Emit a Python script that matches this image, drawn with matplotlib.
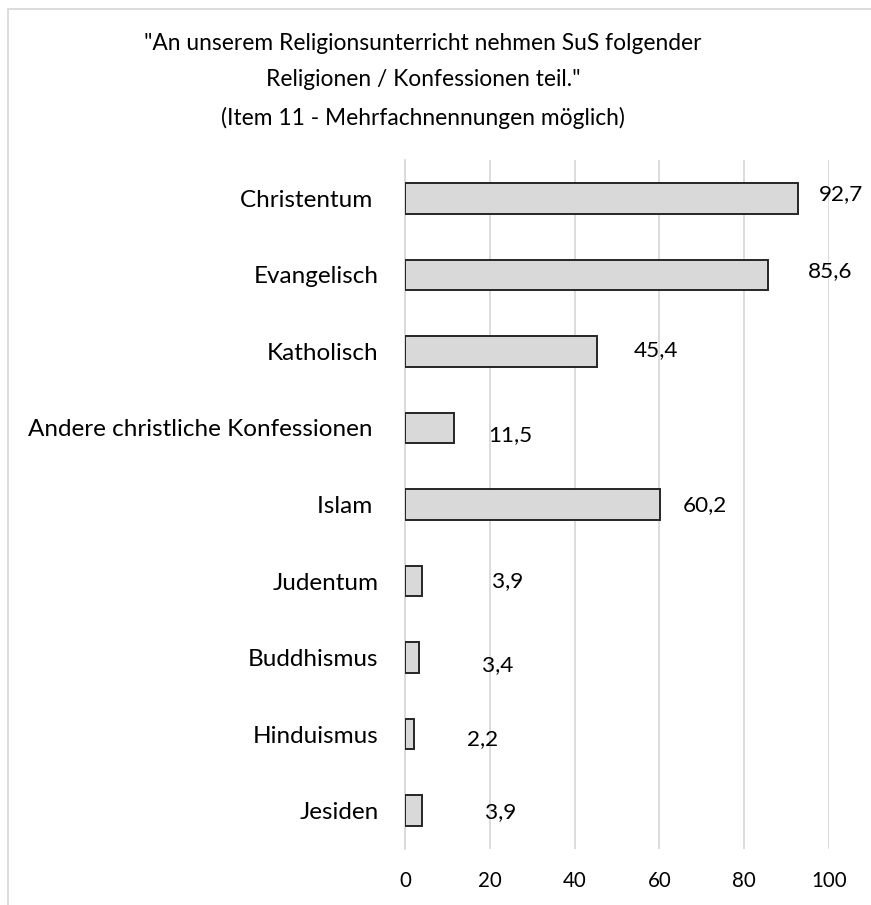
import matplotlib.pyplot as plt
from matplotlib.patches import Rectangle

plt.rcParams['font.family'] = ['Lato', 'DejaVu Sans']

categories = ["Christentum ", "Evangelisch", "Katholisch",
              "Andere christliche Konfessionen ", "Islam ", "Judentum",
              "Buddhismus", "Hinduismus", "Jesiden"]
values = [92.7, 85.6, 45.4, 11.5, 60.2, 3.9, 3.4, 2.2, 3.9]
value_labels = ["92,7", "85,6", "45,4", "11,5", "60,2", "3,9", "3,4", "2,2", "3,9"]
x_ticks = [0, 20, 40, 60, 80, 100]

# label offsets from bar end in pixels (dx right, dy down), as placed in the original
label_dx = [43, 62, 58, 57, 45, 86, 78, 68, 79]
label_dy = [-4, -4, -1, 7, 1, 0, 7, 5, 1]

W, H = 871, 905
fig = plt.figure(figsize=(W / 100, H / 100), dpi=100)
ax = fig.add_axes([405 / W, 1 - 849 / H, (829 - 405) / W, (849 - 160) / H])

y = list(range(len(categories)))
ax.barh(y, values, height=0.40, color='#d9d9d9', edgecolor='#262626',
        linewidth=1.4, zorder=3)
ax.set_ylim(len(categories) - 0.5, -0.5)
ax.set_xlim(0, 100)
ax.set_yticks(y)
ax.set_yticklabels(categories, fontsize=17.5, color='#000000')
ax.set_xticks(x_ticks)
ax.set_xticklabels([str(t) for t in x_ticks], fontsize=14.8, color='#000000')
ax.tick_params(axis='y', length=0, pad=19)
ax.tick_params(axis='x', length=0, pad=16)
ax.grid(axis='x', color='#d9d9d9', linewidth=1.3, zorder=0)
for s in ['top', 'right', 'bottom']:
    ax.spines[s].set_visible(False)
ax.spines['left'].set_color('#d9d9d9')
ax.spines['left'].set_linewidth(1.3)

for i, v in enumerate(values):
    ax.annotate(value_labels[i], (v, i), xytext=(label_dx[i] * 0.72, -label_dy[i] * 0.72),
                textcoords='offset points', ha='center', va='center',
                fontsize=16.2, color='#000000')

title = ('"An unserem Religionsunterricht nehmen SuS folgender\n'
         'Religionen / Konfessionen teil."\n'
         '(Item 11 - Mehrfachnennungen möglich)')
fig.text(423 / W, 1 - 81 / H, title, ha='center', va='center', fontsize=16.4,
         linespacing=1.9, color='#000000')

fig.patches.append(Rectangle((8 / W, -0.1), 1.2, 1 - 9 / H + 0.1,
                             transform=fig.transFigure, fill=False,
                             edgecolor='#d9d9d9', linewidth=1.3))

fig.savefig('out.png', dpi=100)
